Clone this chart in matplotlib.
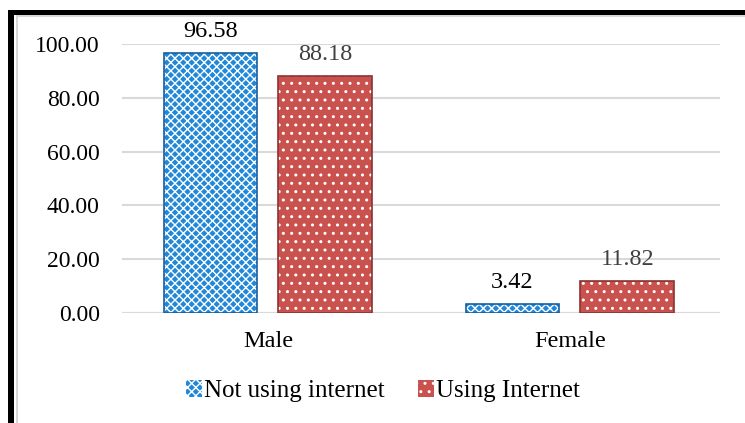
import matplotlib.pyplot as plt
import numpy as np
from matplotlib.patches import Rectangle

categories = ['Male', 'Female']
not_using = [96.58, 3.42]
using = [88.18, 11.82]
series_names = ['Not using internet', 'Using Internet']
yticks = [0, 20, 40, 60, 80, 100]

plt.rcParams['font.family'] = ['Liberation Serif', 'DejaVu Serif']
plt.rcParams['hatch.linewidth'] = 1.0

W, H = 745, 423
fig = plt.figure(figsize=(W / 100, H / 100), dpi=100)
fig.patch.set_facecolor('white')

# frame: black lines on top and left, thin grey inner line
def px_rect(x0, y0, x1, y1, color):
    fig.add_artist(Rectangle((x0 / W, 1 - y1 / H), (x1 - x0) / W, (y1 - y0) / H,
                             transform=fig.transFigure, facecolor=color,
                             edgecolor='none', zorder=0))

px_rect(8, 10, W, 15, 'black')
px_rect(8, 10, 14, H, 'black')
px_rect(16, 15, W, 17, '#d9d9d9')
px_rect(16, 15, 18, H, '#d9d9d9')

ax = fig.add_axes([122 / W, 1 - 313 / H, (720 - 122) / W, (313 - 44) / H])
x = np.arange(len(categories))
width = 0.31
off = 0.19

blue = '#2188d9'
red = '#c9524f'

# fill + white hatch, then dark outline
ax.bar(x - off, not_using, width, color=blue, edgecolor='white', hatch='xxxx',
       linewidth=0, zorder=3)
ax.bar(x - off, not_using, width, fill=False, edgecolor='#17609e', linewidth=1.2,
       zorder=4)
ax.bar(x + off, using, width, color=red, edgecolor='white', hatch='..',
       linewidth=0, zorder=3)
ax.bar(x + off, using, width, fill=False, edgecolor='#8a3230', linewidth=1.2,
       zorder=4)

for xi, v in zip(x - off, not_using):
    ax.text(xi, v + 4.0, f'{v:.2f}', ha='center', va='bottom', fontsize=17.5,
            color='black', clip_on=False)
for xi, v in zip(x + off, using):
    ax.text(xi, v + 4.0, f'{v:.2f}', ha='center', va='bottom', fontsize=17.5,
            color='#404040', clip_on=False)

ax.set_xlim(-0.483, 1.497)
ax.set_ylim(0, 100)
ax.set_yticks(yticks)
ax.set_yticklabels([f'{t:.2f}' for t in yticks], fontsize=17)
ax.set_xticks(x)
ax.set_xticklabels(categories, fontsize=17.5)
ax.tick_params(axis='y', length=0, pad=16)
ax.tick_params(axis='x', length=0, pad=13)
ax.yaxis.grid(True, color='#d9d9d9', linewidth=1.5, zorder=0)
ax.set_axisbelow(True)
for s in ax.spines.values():
    s.set_visible(False)
ax.axhline(0, color='#d9d9d9', linewidth=1.5, zorder=2)

h1 = Rectangle((0, 0), 1, 1, facecolor=blue, edgecolor='white', hatch='xxxx', linewidth=0)
h2 = Rectangle((0, 0), 1, 1, facecolor=red, edgecolor='white', hatch='..', linewidth=0)
fig.legend([h1, h2], series_names, loc='center', bbox_to_anchor=(383 / W, 1 - 391 / H),
           ncol=2, frameon=False, fontsize=18, handlelength=0.65, handleheight=0.65,
           handletextpad=0.1, columnspacing=1.3)

fig.savefig('out.png', dpi=100)
